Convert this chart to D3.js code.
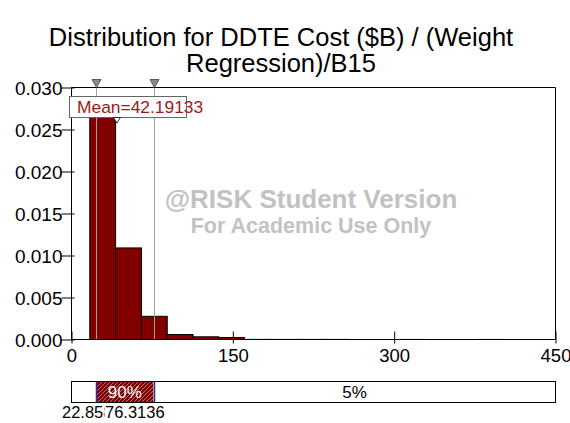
<!DOCTYPE html>
<html><head><meta charset="utf-8">
<script src="https://cdn.jsdelivr.net/npm/d3@7"></script>
<style>
html,body{margin:0;padding:0;background:#fff;}
svg{display:block;font-family:"Liberation Sans",Arial,sans-serif;}
</style></head>
<body><svg id="c" width="570" height="423"></svg>
<script>
// ---- data ----
const titleLines = ["Distribution for DDTE Cost ($B) / (Weight", "Regression)/B15"];
const binLow  = [17, 41, 65, 89, 113, 137, 161, 185, 209, 233, 305, 377];
const binHigh = [41, 65, 89, 113, 137, 161, 185, 209, 233, 257, 329, 401];
const density = [0.0267, 0.0109, 0.00276, 0.00059, 0.00032, 0.00024, 0.00006, 0.00006, 0.00006, 0.00006, 0.00004, 0.00004];
const yTicks = [0, 0.005, 0.010, 0.015, 0.020, 0.025, 0.030];
const xTicks = [0, 150, 300, 450];
const meanValue = 42.19133;
const meanLabel = "Mean=42.19133";
const pLow = 22.858, pHigh = 76.3136;
const pLowLabel = "22.858", pHighLabel = "76.3136";
const bandLabels = ["", "90%", "5%"];

// ---- layout ----
const svg = d3.select("#c");
const L = 71.5, R = 555.5, T = 87.5, B = 339.5;
const x = d3.scaleLinear().domain([0, 450]).range([L, R]);
const y = d3.scaleLinear().domain([0, 0.030]).range([B, T]);

// title
svg.append("g").selectAll("text").data(titleLines).join("text")
  .attr("x", 281).attr("y", (d, i) => 46 + i * 25.5)
  .attr("text-anchor", "middle").attr("font-size", 25.5).attr("fill", "#000")
  .text(d => d);

// watermark
svg.append("text").attr("x", 311).attr("y", 208).attr("text-anchor", "middle")
  .attr("font-size", 26).attr("font-weight", "bold").attr("fill", "#c2c2c2")
  .text("@RISK Student Version");
svg.append("text").attr("x", 311).attr("y", 233).attr("text-anchor", "middle")
  .attr("font-size", 21.5).attr("font-weight", "bold").attr("fill", "#c2c2c2")
  .text("For Academic Use Only");

// clip
svg.append("clipPath").attr("id", "pc").append("rect")
  .attr("x", L).attr("y", T).attr("width", R - L).attr("height", B - T);

// bars
const bars = binLow.map((lo, i) => ({lo, hi: binHigh[i], d: density[i]}));
svg.append("g").attr("clip-path", "url(#pc)").selectAll("rect").data(bars).join("rect")
  .attr("x", d => x(d.lo)).attr("width", d => x(d.hi) - x(d.lo))
  .attr("y", d => y(d.d)).attr("height", d => B - y(d.d))
  .attr("fill", d => (B - y(d.d)) < 1 ? "#c8c8c8" : "#800000")
  .attr("stroke", d => (B - y(d.d)) < 1 ? "#c8c8c8" : "#000")
  .attr("stroke-width", 1);

// percentile marker lines
svg.append("g").selectAll("line").data([pLow, pHigh]).join("line")
  .attr("x1", d => Math.round(x(d)) + 0.5).attr("x2", d => Math.round(x(d)) + 0.5)
  .attr("y1", T).attr("y2", B).attr("stroke", "#a0a0a0").attr("stroke-width", 1);

// frame top/right
svg.append("path").attr("d", `M${L},${T}H${R}V${B}`).attr("fill", "none").attr("stroke", "#000");

// y axis
const gy = svg.append("g").attr("transform", `translate(${L},0)`)
  .call(d3.axisLeft(y).tickValues(yTicks).tickFormat(d3.format(".3f")).tickSize(10));
gy.select(".domain").attr("stroke", "#000").attr("d", `M0,${T}V${B}`);
gy.selectAll(".tick line").attr("x1", 3).attr("stroke", "#000");
gy.selectAll(".tick text").attr("x", -9).attr("font-size", 19)
  .attr("font-family", "Liberation Sans, Arial, sans-serif").attr("fill", "#000").attr("dy", "0.35em");

// x axis
const gx = svg.append("g").attr("transform", `translate(0,${B})`)
  .call(d3.axisBottom(x).tickValues(xTicks).tickFormat(d3.format("d")).tickSize(4));
gx.select(".domain").attr("stroke", "#000").attr("d", `M${L},0H${R}`);
gx.selectAll(".tick line").attr("y1", -8).attr("stroke", "#000");
gx.selectAll(".tick text").attr("y", 22).attr("dy", 0).attr("font-size", 18.5)
  .attr("font-family", "Liberation Sans, Arial, sans-serif").attr("fill", "#000");

// top triangles
svg.append("g").selectAll("path").data([pLow, pHigh]).join("path")
  .attr("d", d => { const cx = Math.round(x(d)) + 0.5; return `M${cx - 4.5},${T - 8}L${cx + 4.5},${T - 8}L${cx},${T}Z`; })
  .attr("fill", "#8a8a8a").attr("stroke", "#5a5a5a").attr("stroke-width", 1);

// mean label
svg.append("rect").attr("x", 69.5).attr("y", 96.5).attr("width", 117).attr("height", 21)
  .attr("fill", "#fff").attr("stroke", "#666");
svg.append("text").attr("x", 77).attr("y", 113).attr("font-size", 17.4).attr("fill", "#a01818")
  .text(meanLabel);
// mean triangle
svg.append("path")
  .attr("d", () => { const cx = x(meanValue); return `M${cx - 3.5},${117.5}L${cx + 3.5},${117.5}L${cx},${123}Z`; })
  .attr("fill", "#fff").attr("stroke", "#000").attr("stroke-width", 0.8);

// bottom band
const defs = svg.append("defs");
const pat = defs.append("pattern").attr("id", "hatch").attr("patternUnits", "userSpaceOnUse")
  .attr("width", 4).attr("height", 4);
pat.append("rect").attr("width", 4).attr("height", 4).attr("fill", "#800000");
pat.append("path").attr("d", "M-1,1L1,-1M0,4L4,0M3,5L5,3").attr("stroke", "#d89a9a").attr("stroke-width", 0.7);

const bandTop = 381.5, bandBot = 402.5;
const segs = [[0, pLow], [pLow, pHigh], [pHigh, 450]];
svg.append("g").selectAll("rect").data(segs).join("rect")
  .attr("x", d => x(d[0])).attr("width", d => x(d[1]) - x(d[0]))
  .attr("y", bandTop).attr("height", bandBot - bandTop)
  .attr("fill", (d, i) => i === 1 ? "url(#hatch)" : "#fff");
svg.append("rect").attr("x", L).attr("y", bandTop).attr("width", R - L).attr("height", bandBot - bandTop)
  .attr("fill", "none").attr("stroke", "#000");
svg.append("g").selectAll("line").data([pLow, pHigh]).join("line")
  .attr("x1", d => Math.round(x(d)) + 0.5).attr("x2", d => Math.round(x(d)) + 0.5)
  .attr("y1", bandTop).attr("y2", bandBot).attr("stroke", "#2a2aa8").attr("stroke-width", 1.5);
svg.append("g").selectAll("text").data(segs).join("text")
  .attr("x", d => (x(d[0]) + x(d[1])) / 2).attr("y", 398).attr("text-anchor", "middle")
  .attr("font-size", 17).attr("fill", (d, i) => i === 1 ? "#fff" : "#000")
  .text((d, i) => bandLabels[i]);

// percentile value labels
svg.append("text").attr("x", 62).attr("y", 418).attr("font-size", 16.5).attr("fill", "#000").text(pLowLabel);
svg.append("rect").attr("x", 104.5).attr("y", 404).attr("width", 62).attr("height", 19).attr("fill", "#fff");
svg.append("text").attr("x", 105).attr("y", 418).attr("font-size", 16.5).attr("fill", "#000").text(pHighLabel);
</script></body></html>
